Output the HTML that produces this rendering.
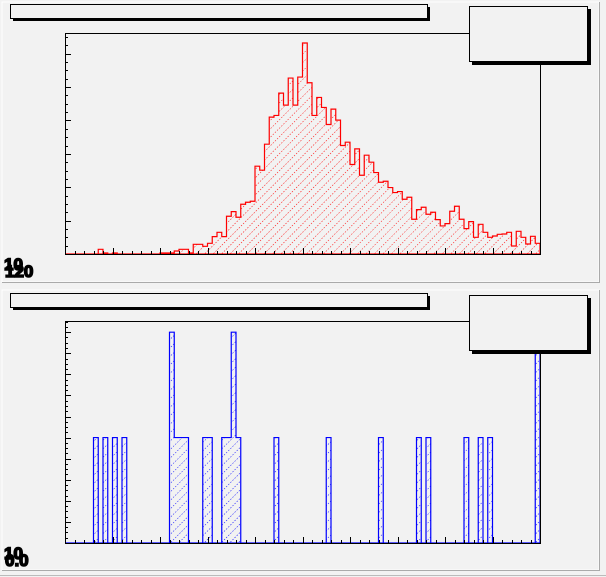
<!DOCTYPE html>
<html><head><meta charset="utf-8">
<style>
html,body{margin:0;padding:0;background:#f2f2f2;}
svg{display:block;font-family:"Liberation Sans",sans-serif;}
</style></head>
<body>
<svg id="c" width="606" height="577" viewBox="0 0 606 577">
<defs>
<pattern id="hr" width="6" height="6" patternUnits="userSpaceOnUse" patternTransform="rotate(45)">
<line x1="0" y1="0" x2="0" y2="6" stroke="#ff0000" stroke-width="1" stroke-dasharray="1.5,1.5"/>
</pattern>
<pattern id="hb" width="6" height="6" patternUnits="userSpaceOnUse" patternTransform="rotate(45)">
<line x1="0" y1="0" x2="0" y2="6" stroke="#0000ff" stroke-width="1" stroke-dasharray="1.5,1.5"/>
</pattern>
</defs>
<rect x="0" y="0" width="606" height="577" fill="#f2f2f2"/>
<line x1="0" y1="575.5" x2="606" y2="575.5" stroke="#bbb"/>
<g>
<rect x="2" y="2" width="597" height="280" fill="#f2f2f2" stroke="#fff"/>
<line x1="2" y1="282.5" x2="600" y2="282.5" stroke="#aaa"/>
<line x1="599.5" y1="2" x2="599.5" y2="283" stroke="#aaa"/>
</g>
<g>
<rect x="2" y="290" width="597" height="280" fill="#f2f2f2" stroke="#fff"/>
<line x1="2" y1="570.5" x2="600" y2="570.5" stroke="#aaa"/>
<line x1="599.5" y1="290" x2="599.5" y2="571" stroke="#aaa"/>
</g>
<g id="top"></g>
<g id="bot"></g>
</svg>
<script>
// Top histogram data (100 bins)
const topValues = [0,0,0,0,0,0,0,1.4,0.3,0,0.3,0,0,0,0,0,0,0,0,0,
0.3,0.3,0.3,0.9,1.4,1.4,0.3,2.9,2.9,2.3,3.2,5.2,6.5,5.2,11.3,12.7,11,14.9,15.5,15.8,
26.3,25.1,32.9,41,41.5,48.2,44.6,52.7,44.6,53,63.2,51.3,41.5,46.9,43.9,38.8,43.4,40.1,32.5,33.5,
26.8,31.5,23.6,29.6,27.5,24.4,21.5,21.8,19.9,18.4,18.7,16.4,17,10.4,13.3,14,11.9,12.5,10.3,8.4,
9.1,12.8,14.3,10.4,7.6,9.7,5,8.9,6.5,5,5.4,5.9,6,6.5,2.4,6.8,5,3,5.3,3.2];
const topYMax = 66.2;
// Bottom histogram data: bin indices and counts
const botBins = [6,8,10,12,22,23,24,25,29,30,33,34,35,36,44,55,66,74,76,84,87,89,99];
const botCounts = [5,5,5,5,10,5,5,5,5,5,5,5,10,5,5,5,5,5,5,5,5,5,9];
const botYMax = 10.53;
const nBins = 100;

const NS="http://www.w3.org/2000/svg";
function mk(parent,tag,attrs){const e=document.createElementNS(NS,tag);for(const k in attrs)e.setAttribute(k,attrs[k]);parent.appendChild(e);return e;}

function drawPad(g, y0, x0, x1, yTop, yBot, values, ymax, color, patt, majorY, minorY, prefix){
  const sx = i => x0 + (x1-x0)*i/nBins;
  const sy = v => yBot - (yBot-yTop)*v/ymax;
  let sh=mk(g,'rect',{x:13,y:y0+7,width:417,height:14,fill:'#000'});
  
  
  let tb=mk(g,'rect',{x:10.5,y:y0+4.5,width:417,height:14,fill:'#f2f2f2',stroke:'#000'});
  
  
  let d='M'+x0+','+yBot;
  for(let i=0;i<nBins;i++){const v=values[i];d+=' L'+sx(i)+','+sy(v)+' L'+sx(i+1)+','+sy(v);}
  d+=' L'+x1+','+yBot+' Z';
  let f=mk(g,'path',{d:d,fill:'url(#'+patt+')',stroke:'none'});
  
  
  let o=mk(g,'path',{d:d,fill:'none',stroke:color,'stroke-width':1.2});
  
  
  let fr=mk(g,'rect',{x:x0+0.5,y:yTop+0.5,width:x1-x0,height:yBot-yTop,fill:'none',stroke:'#000'});
  
  
  for(let v=0;v<=ymax+1e-6;v+=minorY){
    const maj=Math.abs(v/majorY-Math.round(v/majorY))<1e-6;
    const t=mk(g,'line',{x1:x0,x2:x0+(maj?6:3),y1:Math.round(sy(v))+0.5,y2:Math.round(sy(v))+0.5,stroke:'#000'});
    
    
  }
  for(let i=0;i<=nBins;i+=2){
    const maj=i%10===0;
    const t=mk(g,'line',{x1:Math.round(sx(i))+0.5,x2:Math.round(sx(i))+0.5,y1:yBot,y2:yBot-(maj?6:3),stroke:'#000'});
    
    
  }
  let ss=mk(g,'rect',{x:472,y:y0+9,width:119,height:56,fill:'#000'});
  
  
  let sb=mk(g,'rect',{x:469.5,y:y0+6.5,width:118,height:55,fill:'#f2f2f2',stroke:'#000'});
  
  
  let l1=mk(g,'text',{x:4,y:yBot+16,'font-size':17,'font-weight':'bold',fill:'#000',stroke:'#000','stroke-width':1.5});
  l1.textContent='10';
  
  
  let l2=mk(g,'text',{x:5,y:yBot+23,'font-size':17,'font-weight':'bold',fill:'#000',stroke:'#000','stroke-width':1.5});
  l2.textContent=(prefix==='top'?'120':'0.0');
  
  
}
const botValues=new Array(nBins).fill(0);
botBins.forEach((b,k)=>{botValues[b]=botCounts[k];});
drawPad(document.getElementById('top'),0,65,540,33,254,topValues,topYMax,'#ff0000','hr',10,2.5,'top');
drawPad(document.getElementById('bot'),289,65,540,321,543,botValues,botYMax,'#0000ff','hb',1,0.25,'bottom');
</script>
</body></html>
